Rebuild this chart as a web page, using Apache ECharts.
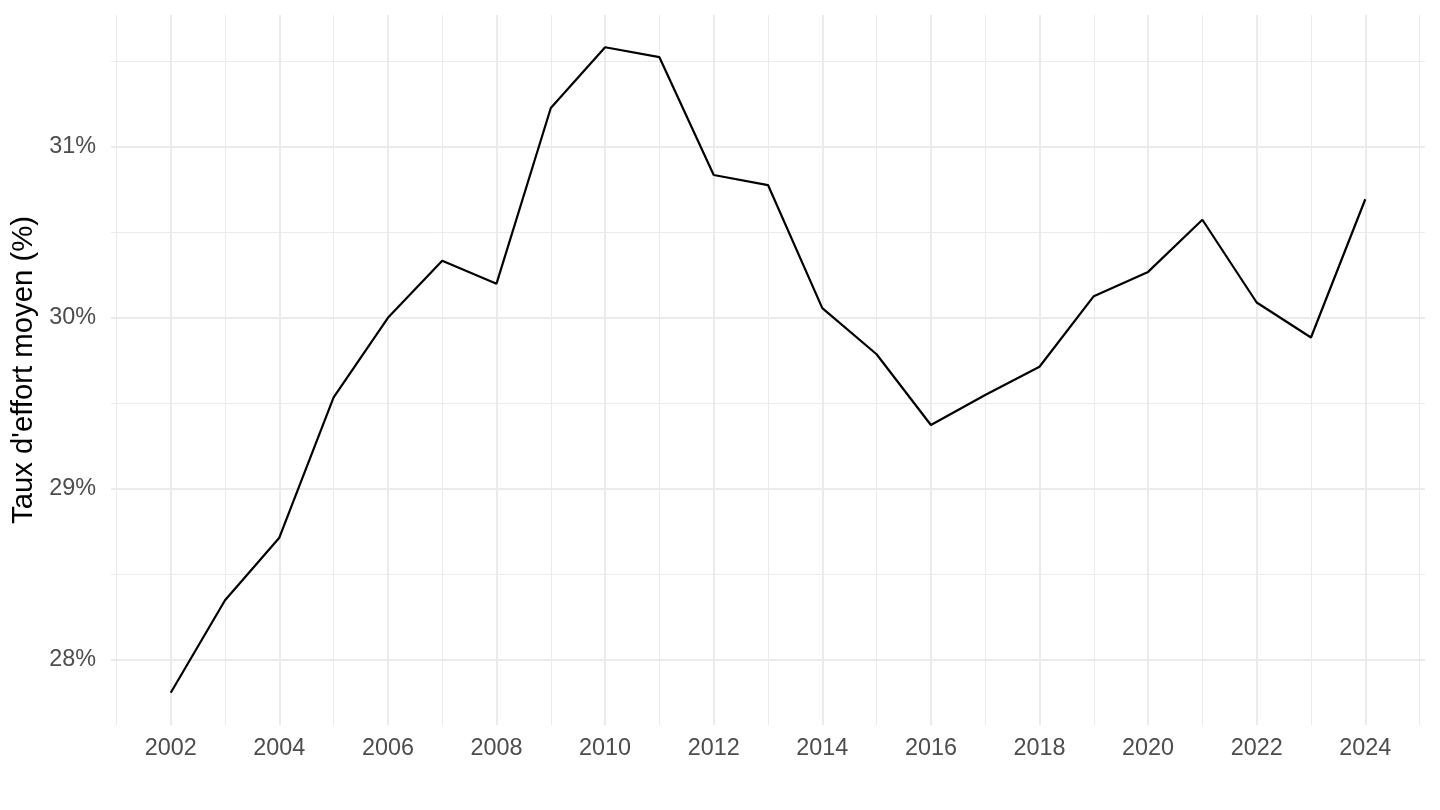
<!DOCTYPE html>
<html>
<head>
<meta charset="utf-8">
<script src="https://cdn.jsdelivr.net/npm/echarts@6/dist/echarts.min.js"></script>
<style>
  html, body { margin: 0; padding: 0; background: #ffffff; }
  #chart { width: 1440px; height: 810px; }
</style>
</head>
<body>
<div id="chart"></div>
<script>
// Data
const years = [2002, 2003, 2004, 2005, 2006, 2007, 2008, 2009, 2010, 2011, 2012, 2013,
               2014, 2015, 2016, 2017, 2018, 2019, 2020, 2021, 2022, 2023, 2024];
const effortRate = [27.807, 28.348, 28.714, 29.535, 30.000, 30.334, 30.200, 31.228, 31.583, 31.525, 30.836, 30.777,
                    30.057, 29.787, 29.373, 29.549, 29.714, 30.127, 30.269, 30.574, 30.090, 29.885, 30.694];
const xMajorTicks = [2002, 2004, 2006, 2008, 2010, 2012, 2014, 2016, 2018, 2020, 2022, 2024];
const xMinorTicks = [2001, 2003, 2005, 2007, 2009, 2011, 2013, 2015, 2017, 2019, 2021, 2023, 2025];
const yMajorTicks = [28, 29, 30, 31];
const yMinorTicks = [28.5, 29.5, 30.5, 31.5];
const yAxisTitle = "Taux d'effort moyen (%)";

// ggplot-like 5% expansion of the data range
const xSpan = years[years.length - 1] - years[0];
const xMin = years[0] - 0.05 * xSpan;
const xMax = years[years.length - 1] + 0.05 * xSpan;
const yLo = Math.min(...effortRate), yHi = Math.max(...effortRate);
const ySpan = yHi - yLo;
const yMin = yLo - 0.05 * ySpan;
const yMax = yHi + 0.05 * ySpan;

const FONT = "'Liberation Sans', Arial, Helvetica, sans-serif";
const GRID = '#ebebeb';

const chart = echarts.init(document.getElementById('chart'), null, { renderer: 'canvas' });
chart.setOption({
  animation: false,
  backgroundColor: '#ffffff',
  grid: { left: 111, right: 15, top: 15, bottom: 85, containLabel: false },
  xAxis: [
    {
      type: 'value', min: xMin, max: xMax, position: 'bottom',
      axisLine: { show: false },
      axisTick: { show: false, customValues: xMajorTicks },
      axisLabel: { customValues: xMajorTicks, color: '#4d4d4d', fontFamily: FONT, fontSize: 23.4, margin: 12,
                   formatter: v => String(Math.round(v)) },
      splitLine: { show: true, lineStyle: { color: GRID, width: 2 } }
    },
    {
      type: 'value', min: xMin, max: xMax, position: 'top',
      axisLine: { show: false },
      axisTick: { show: false, customValues: xMinorTicks },
      axisLabel: { show: false, customValues: xMinorTicks },
      splitLine: { show: true, lineStyle: { color: GRID, width: 1 } }
    }
  ],
  yAxis: [
    {
      type: 'value', min: yMin, max: yMax, position: 'left',
      name: yAxisTitle, nameLocation: 'middle', nameGap: 68,
      nameTextStyle: { color: '#000000', fontFamily: FONT, fontSize: 29.3 },
      axisLine: { show: false },
      axisTick: { show: false, customValues: yMajorTicks },
      axisLabel: { customValues: yMajorTicks, color: '#4d4d4d', fontFamily: FONT, fontSize: 23.4, margin: 15,
                   padding: [4, 0, 0, 0],
                   formatter: v => Math.round(v) + '%' },
      splitLine: { show: true, lineStyle: { color: GRID, width: 2 } }
    },
    {
      type: 'value', min: yMin, max: yMax, position: 'right',
      axisLine: { show: false },
      axisTick: { show: false, customValues: yMinorTicks },
      axisLabel: { show: false, customValues: yMinorTicks },
      splitLine: { show: true, lineStyle: { color: GRID, width: 1 } }
    }
  ],
  series: [
    {
      type: 'line',
      xAxisIndex: 0, yAxisIndex: 0,
      data: years.map((y, i) => [y, effortRate[i]]),
      showSymbol: false,
      symbol: 'none',
      lineStyle: { color: '#000000', width: 2.2 },
      z: 5
    }
  ]
});
</script>
</body>
</html>
